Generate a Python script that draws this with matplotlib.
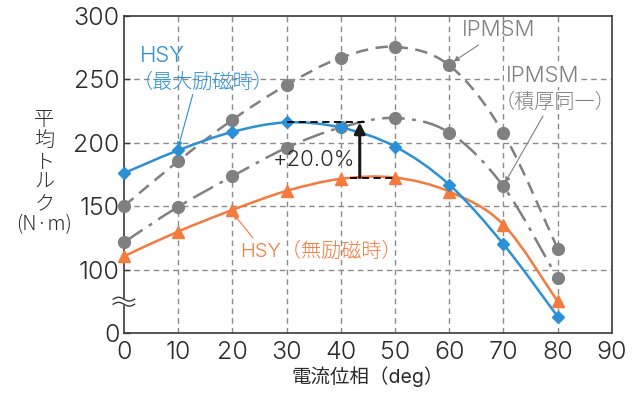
import numpy as np
import matplotlib
matplotlib.use("Agg")
import matplotlib.pyplot as plt
from matplotlib.path import Path
from matplotlib.patches import PathPatch

plt.rcParams['font.family'] = ['Inter', 'Noto Sans CJK JP', 'DejaVu Sans']
plt.rcParams['font.weight'] = 300

# current phase (deg)
phase = [0, 10, 20, 30, 40, 50, 60, 70, 80]

# average torque (N·m); the axis is broken below 100, values there are on the drawn scale
hsy_max = [176, 194, 208.5, 216, 212, 197, 167, 120, 63]
hsy_none = [110.5, 130, 147, 162, 171.5, 172.5, 161.5, 135.5, 75]
ipmsm = [150, 185.5, 218, 245.5, 267, 275.5, 261, 207.5, 116.5]
ipmsm_same = [121.5, 149.5, 173.5, 196, 212, 219.5, 208, 165.5, 93]

yticks = [50, 100, 150, 200, 250, 300]
ytick_labels = ['0', '100', '150', '200', '250', '300']
xticks = [0, 10, 20, 30, 40, 50, 60, 70, 80, 90]

blue = '#2b90d6'
orange = '#f47a3e'
gray = '#808080'
txtc = '#2a2a2a'


def smooth_path(xs, ys):
    # catmull-rom through the points, drawn as cubic bezier segments
    pts = np.column_stack([xs, ys]).astype(float)
    p = np.vstack([pts[0], pts, pts[-1]])
    verts = [pts[0]]
    codes = [Path.MOVETO]
    for i in range(1, len(p) - 2):
        c1 = p[i] + (p[i + 1] - p[i - 1]) / 6.0
        c2 = p[i + 1] - (p[i + 2] - p[i]) / 6.0
        verts += [c1, c2, p[i + 1]]
        codes += [Path.CURVE4] * 3
    return Path(verts, codes)


fig = plt.figure(figsize=(6.42, 3.96), dpi=100)
ax = fig.add_axes([0.193, 0.159, 0.76, 0.801])

ax.set_xlim(0, 90)
ax.set_ylim(50, 300)

# grid
for gx in xticks[1:-1]:
    ax.axvline(gx, color='#8a8a8a', lw=1.0, ls=(0, (4, 3)), zorder=0)
for gy in yticks[1:-1]:
    ax.axhline(gy, color='#8a8a8a', lw=1.0, ls=(0, (4, 3)), zorder=0)

series = [
    (ipmsm, gray, (0, (5, 3)), 'o', 8.5),
    (ipmsm_same, gray, (0, (9, 3, 1.5, 3)), 'o', 8.5),
    (hsy_none, orange, '-', '^', 8.5),
    (hsy_max, blue, '-', 'D', 6),
]
for ys, c, ls, m, ms in series:
    patch = PathPatch(smooth_path(phase, ys), fill=False, edgecolor=c,
                      lw=1.8, ls=ls, zorder=2, clip_on=False)
    ax.add_patch(patch)
    ax.plot(phase, ys, ls='none', marker=m, ms=ms, color=c, mec=c,
            zorder=3, clip_on=False)

# +20.0% annotation
ax.plot([30, 45], [hsy_max[3], hsy_max[3]], color='black', lw=1.3,
        ls=(0, (4, 2.5)), zorder=4)
ax.plot([41.7, 49.6], [hsy_none[5], hsy_none[5]], color='black', lw=1.3,
        ls=(0, (4, 2.5)), zorder=4)
ax.annotate('', xy=(43.5, hsy_max[3]), xytext=(43.5, hsy_none[5]),
            arrowprops=dict(arrowstyle='-|>', color='#1a1a1a', lw=2.2,
                            mutation_scale=16, shrinkA=0, shrinkB=0), zorder=5)
ax.text(42.6, 186, '+20.0%', ha='right', va='center', fontsize=16, color=txtc)

# labels with leader arrows
ax.text(3, 268.5, 'HSY', color=blue, fontsize=16, ha='left', va='center')
ax.text(1.6, 248, '（最大励磁時）', color=blue, fontsize=14.5, ha='left', va='center')
ax.annotate('', xy=(10, hsy_max[1] + 2), xytext=(12.7, 238),
            arrowprops=dict(arrowstyle='-|>', color=blue, lw=0.8,
                            mutation_scale=8, shrinkA=0, shrinkB=0))

ax.text(62.3, 289, 'IPMSM', color=gray, fontsize=16, ha='left', va='center')
ax.annotate('', xy=(60.8, ipmsm[6] + 3), xytext=(65.4, 277),
            arrowprops=dict(arrowstyle='-|>', color=gray, lw=0.8,
                            mutation_scale=8, shrinkA=0, shrinkB=0))

ax.text(70.4, 252.5, 'IPMSM', color=gray, fontsize=16, ha='left', va='center',
        bbox=dict(facecolor='white', edgecolor='none', pad=1))
ax.text(68.3, 232, '（積厚同一）', color=gray, fontsize=14.5, ha='left', va='center')
ax.annotate('', xy=(70.3, ipmsm_same[7] + 3), xytext=(77.3, 221),
            arrowprops=dict(arrowstyle='-|>', color=gray, lw=0.8,
                            mutation_scale=8, shrinkA=0, shrinkB=0))

ax.text(21.4, 114.5, 'HSY（無励磁時）', color=orange, fontsize=14.5, ha='left', va='center')
ax.annotate('', xy=(20.2, hsy_none[2] - 3), xytext=(23.8, 125),
            arrowprops=dict(arrowstyle='-|>', color=orange, lw=0.8,
                            mutation_scale=8, shrinkA=0, shrinkB=0))

# axes styling
for s in ax.spines.values():
    s.set_color('#3a3a3a')
    s.set_linewidth(1.2)
ax.set_xticks(xticks)
ax.set_yticks(yticks)
ax.set_yticklabels(ytick_labels)
ax.tick_params(axis='both', direction='in', length=4, width=1, color='#3a3a3a',
               labelsize=18, labelcolor=txtc, pad=3)
ax.tick_params(axis='x', length=0, pad=6)

# axis break mark
t = np.linspace(-0.022, 0.022, 40)
wave = 0.006 * np.sin((t + 0.022) / 0.044 * 2 * np.pi)
yb = (74.7 - 50) / 250
ax.fill_between(t, yb - 0.008 + wave, yb + 0.008 + wave, color='white',
                transform=ax.transAxes, clip_on=False, zorder=6)
for off in (-0.008, 0.008):
    ax.plot(t, yb + off + wave, color='#3a3a3a', lw=1.0,
            transform=ax.transAxes, clip_on=False, zorder=7)

ax.set_xlabel('電流位相（deg）', fontsize=14, color=txtc, labelpad=1)
fig.text(0.069, 0.566, '平\n均\nト\nル\nク\n(N·m)', fontsize=14.5, color=txtc,
         ha='center', va='center', linespacing=1.0,
         family=['Noto Sans CJK JP', 'DejaVu Sans'])

fig.savefig('out.png', dpi=100)
